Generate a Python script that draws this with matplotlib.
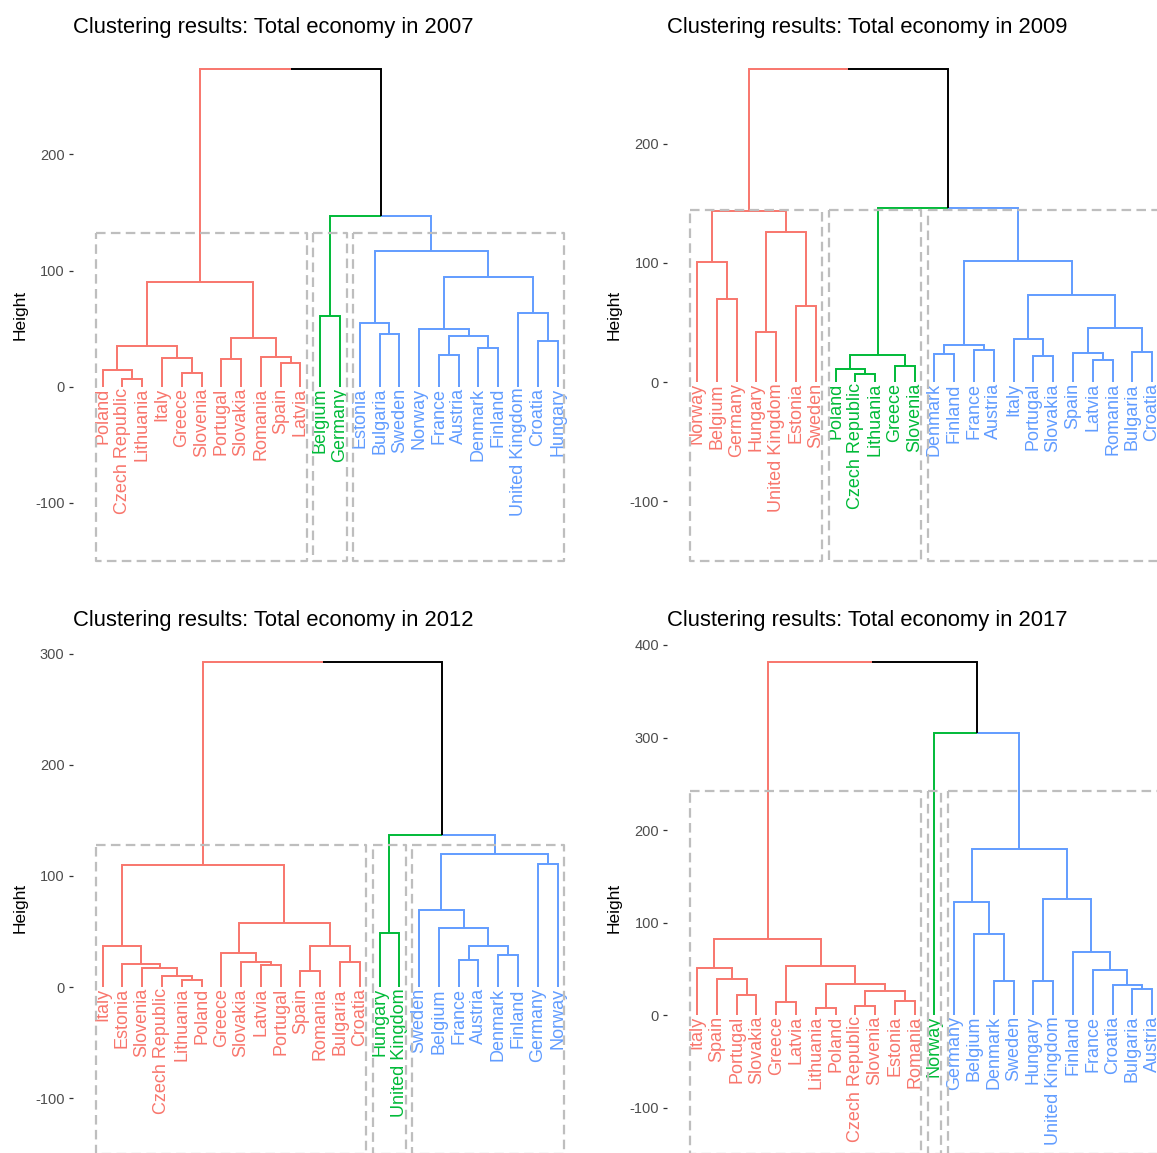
import matplotlib
matplotlib.use("Agg")
import matplotlib.pyplot as plt
import numpy as np

plt.rcParams["font.family"] = ["Liberation Sans", "DejaVu Sans"]

# cluster colours (ggplot hue palette)
CLUSTER_COLORS = ["#F8766D", "#00BA38", "#619CFF"]
LOWER_RECT = -150

# ---- 2007 -------------------------------------------------------------
labels_2007 = ["Poland", "Czech Republic", "Lithuania", "Italy", "Greece", "Slovenia",
               "Portugal", "Slovakia", "Romania", "Spain", "Latvia", "Belgium", "Germany",
               "Estonia", "Bulgaria", "Sweden", "Norway", "France", "Austria", "Denmark",
               "Finland", "United Kingdom", "Croatia", "Hungary"]
sizes_2007 = [11, 2, 11]
# (left, right, height): ids < 24 are leaves, 24+i is merge i
merges_2007 = [(1, 2, 6.9), (0, 24, 14.0), (4, 5, 11.5), (3, 26, 24.4), (25, 27, 34.7),
               (6, 7, 24.0), (9, 10, 20.6), (8, 30, 25.2), (29, 31, 41.6), (28, 32, 89.7),
               (11, 12, 61.0), (14, 15, 45.0), (13, 35, 54.5), (17, 18, 27.2), (19, 20, 33.0),
               (37, 38, 43.8), (16, 39, 49.3), (22, 23, 39.3), (21, 41, 63.3), (40, 42, 94.0),
               (36, 43, 117.0), (34, 44, 147.3), (33, 45, 273.4)]
ticks_2007 = [-100, 0, 100, 200]

# ---- 2009 -------------------------------------------------------------
labels_2009 = ["Norway", "Belgium", "Germany", "Hungary", "United Kingdom", "Estonia",
               "Sweden", "Poland", "Czech Republic", "Lithuania", "Greece", "Slovenia",
               "Denmark", "Finland", "France", "Austria", "Italy", "Portugal", "Slovakia",
               "Spain", "Latvia", "Romania", "Bulgaria", "Croatia"]
sizes_2009 = [7, 5, 12]
merges_2009 = [(1, 2, 69.6), (0, 24, 100.6), (3, 4, 41.9), (5, 6, 64.0), (26, 27, 125.5),
               (25, 28, 143.6), (8, 9, 7.0), (7, 30, 10.6), (10, 11, 13.7), (31, 32, 22.6),
               (12, 13, 23.5), (14, 15, 26.8), (34, 35, 31.0), (17, 18, 22.1), (16, 37, 36.0),
               (20, 21, 18.4), (19, 39, 24.6), (22, 23, 24.9), (40, 41, 45.3), (38, 42, 73.2),
               (36, 43, 101.7), (33, 44, 145.6), (29, 45, 262.4)]
ticks_2009 = [-100, 0, 100, 200]

# ---- 2012 -------------------------------------------------------------
labels_2012 = ["Italy", "Estonia", "Slovenia", "Czech Republic", "Lithuania", "Poland",
               "Greece", "Slovakia", "Latvia", "Portugal", "Spain", "Romania", "Bulgaria",
               "Croatia", "Hungary", "United Kingdom", "Sweden", "Belgium", "France",
               "Austria", "Denmark", "Finland", "Germany", "Norway"]
sizes_2012 = [14, 2, 8]
merges_2012 = [(4, 5, 6.3), (3, 24, 9.6), (2, 25, 17.0), (1, 26, 20.9), (0, 27, 36.8),
               (8, 9, 20.0), (7, 29, 23.0), (6, 30, 30.8), (10, 11, 14.3), (12, 13, 23.0),
               (32, 33, 36.8), (31, 34, 57.4), (28, 35, 109.7), (14, 15, 48.4), (18, 19, 24.5),
               (20, 21, 29.0), (38, 39, 36.8), (17, 40, 53.5), (16, 41, 69.0), (22, 23, 110.9),
               (42, 43, 119.5), (37, 44, 136.6), (36, 45, 292.3)]
ticks_2012 = [-100, 0, 100, 200, 300]

# ---- 2017 -------------------------------------------------------------
labels_2017 = ["Italy", "Spain", "Portugal", "Slovakia", "Greece", "Latvia", "Lithuania",
               "Poland", "Czech Republic", "Slovenia", "Estonia", "Romania", "Norway",
               "Germany", "Belgium", "Denmark", "Sweden", "Hungary", "United Kingdom",
               "Finland", "France", "Croatia", "Bulgaria", "Austria"]
sizes_2017 = [12, 1, 11]
merges_2017 = [(2, 3, 21.9), (1, 24, 38.8), (0, 25, 50.6), (4, 5, 14.4), (6, 7, 7.2),
               (8, 9, 9.7), (10, 11, 15.4), (29, 30, 26.2), (28, 31, 33.4), (27, 32, 53.1),
               (26, 33, 81.9), (15, 16, 36.6), (14, 35, 87.6), (13, 36, 122.0), (17, 18, 37.4),
               (22, 23, 28.7), (21, 39, 32.7), (20, 40, 48.5), (19, 41, 67.9), (38, 42, 125.0),
               (37, 43, 180.0), (12, 44, 305.0), (34, 45, 381.5)]
ticks_2017 = [-100, 0, 100, 200, 300, 400]

PANELS = [
    ("2007", labels_2007, sizes_2007, merges_2007, ticks_2007),
    ("2009", labels_2009, sizes_2009, merges_2009, ticks_2009),
    ("2012", labels_2012, sizes_2012, merges_2012, ticks_2012),
    ("2017", labels_2017, sizes_2017, merges_2017, ticks_2017),
]

W, H = 1157, 1153
fig = plt.figure(figsize=(W / 100, H / 100), dpi=100)
fig.patch.set_facecolor("white")

# pixel boxes of the plot panels; right column and bottom row run past the
# picture edge like in the original crop
COL_X = [72.5, 667.0]
ROW_Y = [44.5, 637.5]
PW, PH = 515.0, 541.0


def draw_dend(ax, labels, sizes, merges):
    n = len(labels)
    xs = [float(i) for i in range(n)]
    hs = [0.0] * n
    cl = []
    for k, s in enumerate(sizes):
        cl += [k] * s
    for a, b, h in merges:
        xs.append((xs[a] + xs[b]) / 2)
        hs.append(h)
        cl.append(cl[a] if cl[a] == cl[b] else -1)
    for i, (a, b, h) in enumerate(merges):
        node = n + i
        for c in (a, b):
            col = CLUSTER_COLORS[cl[c]] if cl[c] >= 0 else "black"
            ax.plot([xs[node], xs[c], xs[c]], [h, h, hs[c]], color=col, lw=1.4,
                    solid_capstyle="butt", solid_joinstyle="miter", zorder=2)
    for i, lab in enumerate(labels):
        ax.text(i, -1.0, lab, rotation=90, ha="center", va="top", fontsize=13,
                color=CLUSTER_COLORS[cl[i]], zorder=3)
    # cluster rectangles (dendextend style)
    hsort = sorted([m[2] for m in merges], reverse=True)
    k = len(sizes)
    ytop = (hsort[k - 2] + hsort[k - 1]) / 2
    edges = np.concatenate([[0], np.cumsum(sizes)])
    for j in range(k):
        x0 = edges[j] - 0.34
        x1 = edges[j + 1] - 0.67
        ax.plot([x0, x1, x1, x0, x0], [ytop, ytop, LOWER_RECT, LOWER_RECT, ytop],
                color="#BEBEBE", lw=1.6, ls=(0, (4.3, 2.4)), zorder=4)
    top = max(hsort[0], ytop)
    span = top - LOWER_RECT
    ax.set_ylim(LOWER_RECT - 0.05 * span, top + 0.05 * span)
    lo, hi = -0.34, n - 0.67
    ax.set_xlim(lo - 0.05 * (hi - lo), hi + 0.05 * (hi - lo))


for idx, (year, labels, sizes, merges, ticks) in enumerate(PANELS):
    r, c = divmod(idx, 2)
    left, top = COL_X[c], ROW_Y[r]
    ax = fig.add_axes([left / W, 1 - (top + PH) / H, PW / W, PH / H])
    draw_dend(ax, labels, sizes, merges)
    for s in ax.spines.values():
        s.set_visible(False)
    ax.set_xticks([])
    ax.set_yticks(ticks)
    ax.set_yticklabels([str(t) for t in ticks])
    ax.tick_params(axis="y", length=3.2, width=0.9, color="#333333", pad=2.5,
                   labelsize=10.5, labelcolor="#4D4D4D")
    fig.text((left + 0.5) / W, 1 - (top - 11.5) / H,
             f"Clustering results: Total economy in {year}",
             fontsize=15.8, ha="left", va="baseline", color="black")
    fig.text((left - 52.5) / W, 1 - (top + PH / 2) / H, "Height", rotation=90,
             fontsize=12.5, ha="center", va="center", color="black")

fig.savefig("out.png", dpi=100)
